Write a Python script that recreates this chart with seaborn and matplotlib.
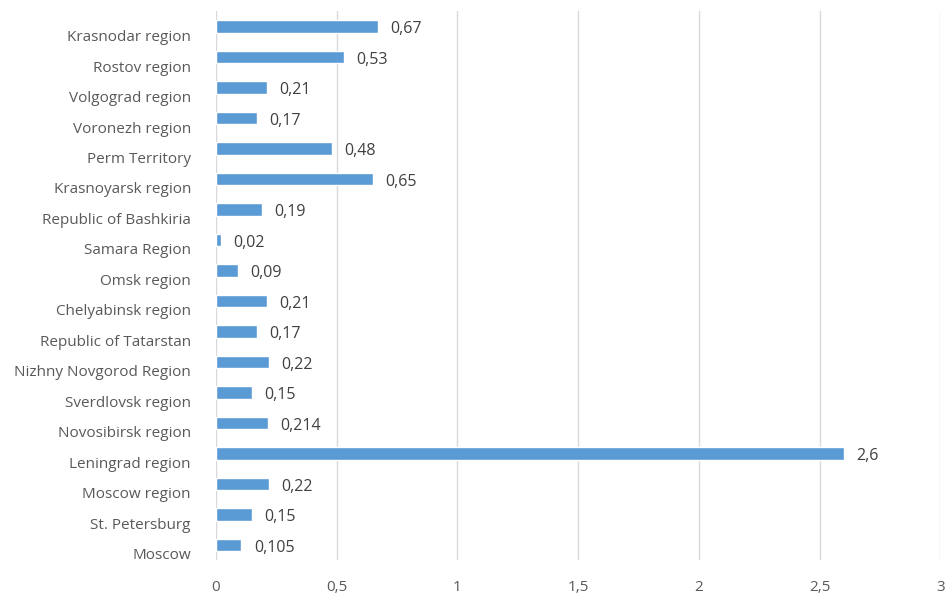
import matplotlib
matplotlib.use("Agg")
import matplotlib.pyplot as plt
import matplotlib.transforms as mtransforms
import seaborn as sns
import pandas as pd

regions = ["Krasnodar region", "Rostov region", "Volgograd region", "Voronezh region",
           "Perm Territory", "Krasnoyarsk region", "Republic of Bashkiria", "Samara Region",
           "Omsk region", "Chelyabinsk region", "Republic of Tatarstan",
           "Nizhny Novgorod Region", "Sverdlovsk region", "Novosibirsk region",
           "Leningrad region", "Moscow region", "St. Petersburg", "Moscow"]
values = [0.67, 0.53, 0.21, 0.17, 0.48, 0.65, 0.19, 0.02, 0.09, 0.21, 0.17,
          0.22, 0.15, 0.214, 2.6, 0.22, 0.15, 0.105]
value_labels = ["0,67", "0,53", "0,21", "0,17", "0,48", "0,65", "0,19", "0,02", "0,09",
                "0,21", "0,17", "0,22", "0,15", "0,214", "2,6", "0,22", "0,15", "0,105"]
x_ticks = [0, 0.5, 1, 1.5, 2, 2.5, 3]
x_tick_labels = ["0", "0,5", "1", "1,5", "2", "2,5", "3"]

df = pd.DataFrame({"region": regions, "value": values})

sns.set_style("white")
plt.rcParams["font.family"] = ["Open Sans", "DejaVu Sans"]

fig = plt.figure(figsize=(9.47, 5.94), dpi=100)
ax = fig.add_axes([0.228, 0.057, 0.765, 0.924])

sns.barplot(data=df, x="value", y="region", orient="h", color="#5B9BD5",
            saturation=1, width=0.4, ax=ax)

ax.set_xlim(0, 3)
ax.set_xticks(x_ticks)
ax.set_xticklabels(x_tick_labels, fontsize=11, color="#595959")
ax.tick_params(axis="x", length=0, pad=14)
ax.tick_params(axis="y", length=0, pad=18, labelsize=11, labelcolor="#595959")
ax.grid(axis="x", color="#D9D9D9", linewidth=1)
ax.set_axisbelow(True)
for s in ax.spines.values():
    s.set_visible(False)
ax.set_xlabel("")
ax.set_ylabel("")

# Excel-style offset: category labels sit a bit below the bar
offset = mtransforms.ScaledTranslation(0, -9 / 100, fig.dpi_scale_trans)
for lbl in ax.get_yticklabels():
    lbl.set_transform(lbl.get_transform() + offset)

for i, (v, t) in enumerate(zip(values, value_labels)):
    ax.annotate(t, (v, i), xytext=(9, -2), textcoords="offset points",
                va="center", ha="left", fontsize=11.5, color="#404040")

fig.savefig("out.png", dpi=100)
